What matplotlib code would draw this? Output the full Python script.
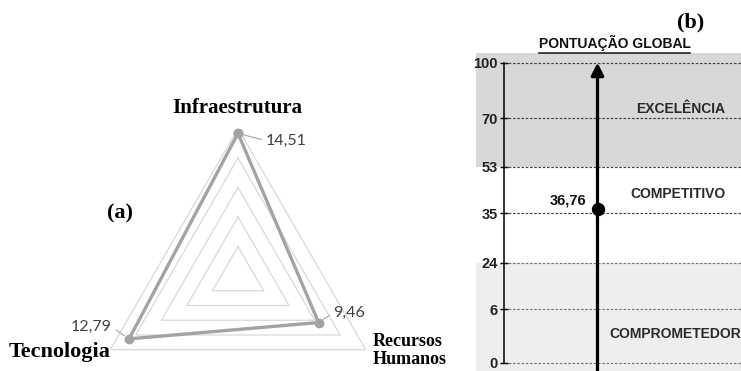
import numpy as np
import matplotlib
matplotlib.use("Agg")
import matplotlib.pyplot as plt
from matplotlib.lines import Line2D

# ---------------- data ----------------
# (a) radar of the three dimensions
dimensions = ["Infraestrutura", "Recursos\nHumanos", "Tecnologia"]
dimension_scores = [14.51, 9.46, 12.79]
ring_levels = [3, 6, 9, 12, 15]
radar_max = 15

# (b) global score scale
scale_levels = [0, 6, 24, 35, 53, 70, 100]
global_score = 36.76
class_names = ["COMPROMETEDOR", "COMPETITIVO", "EXCELÊNCIA"]

# ---------------- layout / style ----------------
W, H, DPI = 741, 371, 100
level_pos = [0, 1.07, 2.0, 2.99, 3.92, 4.89, 6.0]   # vertical placement of each scale level
SERIF = ["Liberation Serif", "DejaVu Serif"]
SANS = ["Liberation Sans", "DejaVu Sans"]
LABEL_FONT = ["Lato", "DejaVu Sans"]


def fx(px):
    return px / W


def fy(py):
    return 1 - py / H


def fmt(v):
    return f"{v:.2f}".replace(".", ",")


def scale_pos(v):
    return np.interp(v, scale_levels, level_pos)


fig = plt.figure(figsize=(W / DPI, H / DPI), dpi=DPI)
fig.patch.set_facecolor("white")

# ---------------- (a) radar ----------------
cx, cy, R = 238, 276, 147.5
ax = fig.add_axes([fx(cx - R), fy(cy + R), 2 * R / W, 2 * R / H], projection="polar")
ax.set_theta_offset(np.pi / 2)
ax.set_theta_direction(-1)
ax.set_ylim(0, radar_max)
ax.grid(False)
ax.set_xticks([])
ax.set_yticks([])
ax.spines["polar"].set_visible(False)
ax.patch.set_alpha(0)

theta = np.linspace(0, 2 * np.pi, len(dimensions), endpoint=False)
theta_c = np.append(theta, theta[0])
for lvl in ring_levels:
    ax.plot(theta_c, [lvl] * len(theta_c), color="#d9d9d9", lw=0.9, zorder=1)

vals_c = np.append(dimension_scores, dimension_scores[0])
ax.plot(theta_c, vals_c, color="#a3a3a3", lw=2.4, zorder=3,
        marker="o", markersize=6, markerfacecolor="#a3a3a3", markeredgecolor="#a3a3a3")

label_offsets = [(20, -5.3), (10.6, 7.0), (-12.2, 8.3)]
label_align = ["left", "left", "right"]
for t, v, off, ha in zip(theta, dimension_scores, label_offsets, label_align):
    ax.annotate(fmt(v), xy=(t, v), xytext=off, textcoords="offset points",
                ha=ha, va="center", fontsize=11.5, color="#404040", family=LABEL_FONT,
                arrowprops=dict(arrowstyle="-", color="#a6a6a6", lw=0.8,
                                shrinkA=1, shrinkB=4,
                                relpos=(0, 0.5) if ha == "left" else (1, 0.5)),
                annotation_clip=False, zorder=4)

fig.text(fx(237.5), fy(108), dimensions[0], ha="center", va="center",
         fontsize=15, fontweight="bold", family=SERIF)
fig.text(fx(373), fy(350.5), dimensions[1], ha="left", va="center",
         fontsize=13, fontweight="bold", family=SERIF, linespacing=1.1)
fig.text(fx(60), fy(352), dimensions[2], ha="center", va="center",
         fontsize=16, fontweight="bold", family=SERIF)
fig.text(fx(120), fy(213), "(a)", ha="center", va="center",
         fontsize=16, fontweight="bold", family=SERIF)

# ---------------- (b) global score scale ----------------
axl = 503.5
bx = fig.add_axes([fx(axl), 0, 1 - fx(axl), 1])
u_per_px = 1 / 50.0
y_bottom = -(H - 362.7) * u_per_px
y_top = 362.7 * u_per_px
bx.set_ylim(y_bottom, y_top)
bx.set_xlim(0, 1)
bx.patch.set_alpha(0)
for s in ["top", "right", "bottom"]:
    bx.spines[s].set_visible(False)
bx.spines["left"].set_bounds(level_pos[0], level_pos[-1])
bx.spines["left"].set_linewidth(1.1)
bx.set_xticks([])
bx.set_yticks(level_pos)
bx.set_yticklabels([str(v) for v in scale_levels], fontsize=10.5, fontweight="bold",
                   family=SANS, color="#222222")
bx.tick_params(axis="y", direction="inout", length=6, width=1, pad=1)

band_x0 = -(axl - 476) / (W - axl)
band_top = (362.7 - 53.3) * u_per_px
bx.axhspan(scale_pos(53), band_top, xmin=band_x0, xmax=1, color="#d8d8d8",
           clip_on=False, zorder=0, lw=0)
bx.axhspan(y_bottom, scale_pos(24), xmin=band_x0, xmax=1, color="#eeeeee",
           clip_on=False, zorder=0, lw=0)

for lv in scale_levels:
    col = "#444444" if lv >= 35 else "#777777"
    bx.axhline(scale_pos(lv), xmin=0, xmax=1, color=col, lw=0.85,
               ls=(0, (2.2, 1.4)), zorder=1)

arrow_x = (597.5 - axl) / (W - axl)
bx.annotate("", xy=(arrow_x, scale_pos(100)), xytext=(arrow_x, y_bottom),
            arrowprops=dict(arrowstyle="-|>,head_length=0.75,head_width=0.38",
                            lw=2.3, color="black", shrinkA=0, shrinkB=0,
                            mutation_scale=10),
            annotation_clip=False, zorder=3)
bx.plot([arrow_x], [scale_pos(global_score)], marker="o", markersize=8.6,
        color="black", zorder=4, clip_on=False)
bx.annotate(fmt(global_score), xy=(arrow_x, scale_pos(global_score)),
            xytext=(-7.8, 6.2), textcoords="offset points", ha="right", va="center",
            fontsize=10.5, fontweight="bold", family=SANS, color="#111111")

class_pos = [0.57, 3.37, 5.07]
class_x = [1.0, 0.735, 0.747]
class_ha = ["right", "center", "center"]
for name, yp, xp, ha in zip(class_names, class_pos, class_x, class_ha):
    bx.text(xp, yp, name, ha=ha, va="center", fontsize=10, fontweight="bold",
            family=SANS, color="#2a2a2a", clip_on=False)

title = fig.text(fx(614.5), fy(43.3), "PONTUAÇÃO GLOBAL", ha="center", va="center",
                 fontsize=10, fontweight="bold", family=SANS, color="#111111")
fig.text(fx(691), fy(22), "(b)", ha="center", va="center",
         fontsize=16, fontweight="bold", family=SERIF)

# underline under the title
fig.canvas.draw()
bb = title.get_window_extent(fig.canvas.get_renderer())
uy = bb.y0 - 1.5
fig.add_artist(Line2D([bb.x0 / W, bb.x1 / W], [uy / H, uy / H],
                      transform=fig.transFigure, color="#111111", lw=1.1))

fig.savefig("out.png", dpi=DPI, facecolor="white")
